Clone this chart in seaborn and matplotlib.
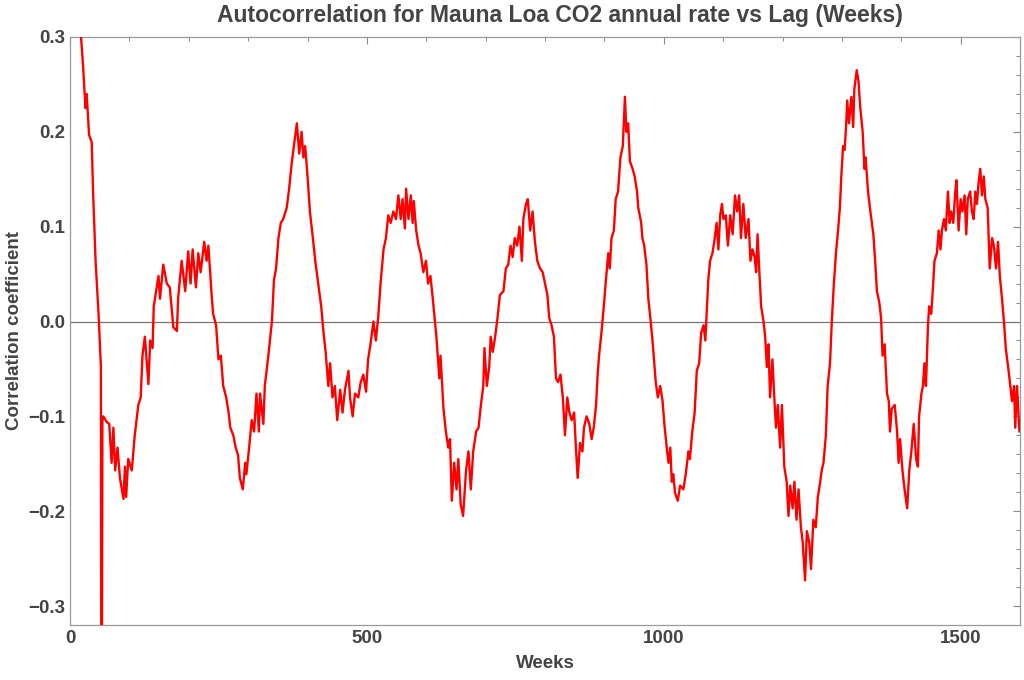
import matplotlib
matplotlib.use("Agg")
import matplotlib.pyplot as plt
import seaborn as sns
import pandas as pd
from matplotlib.ticker import MultipleLocator, FuncFormatter

weeks = [
    0, 6, 12, 18.5, 22, 26, 28, 32, 36.5, 39, 40, 43, 48, 52, 53, 54.5, 56, 62, 66, 70, 73, 76, 80, 84,
    90, 92.5, 94.5, 98, 104, 109, 115, 119, 122, 126, 132, 135, 139, 141, 145, 149, 151.5, 157,
    163, 168, 174, 180, 182, 188, 194, 199, 203, 206.5, 212, 216, 220, 226, 230, 233, 238.5, 241,
    246, 250, 254, 258, 263, 267, 270, 275, 279, 283, 286, 291, 295, 297, 301, 306, 310, 314, 318,
    320, 325.6, 328, 334, 340, 343.5, 347, 351, 355, 359, 365, 369, 373, 377, 382, 386, 390, 393,
    396, 400, 404, 409, 413, 418, 423, 427, 430.5, 435, 438, 442, 446, 450, 455, 459, 463, 469,
    471.5, 476, 480, 485.5, 489.5, 494, 498.5, 502, 506, 511, 515, 519, 523, 528, 532, 536, 540,
    544.5, 549, 553, 557, 560, 564, 566, 570, 574, 577, 579, 583, 587, 590.5, 595, 599.5, 603, 607,
    611, 614.6, 617, 622, 624, 629, 633, 637,
    640, 643, 647, 651, 654, 658, 662, 667, 671, 675, 679, 684, 688, 692, 696, 698, 702, 706,
    708.5, 712, 716, 720, 724, 730, 734, 738, 742, 745.5, 749, 753, 757, 761, 763.5, 768, 771, 775,
    779, 783, 787, 791.5, 796, 800, 804, 807, 811, 815, 818.5, 822, 826, 830, 833.6, 837.5, 841,
    845, 849, 852, 855, 859, 863, 865.6, 870, 874.6, 878.5, 882, 886, 888.6, 891, 895, 899, 902.6,
    906.5, 909, 912, 916, 919, 923, 927, 931, 934.6, 937, 940, 943, 947.5, 951, 955,
    957, 962, 964, 967, 970.8, 974, 978, 981, 984, 986.5, 990, 994, 998, 1001, 1005, 1008, 1011,
    1013.5, 1016, 1019, 1023.6, 1027.5, 1033, 1037, 1041.6, 1044, 1048, 1052, 1055.6, 1059.6, 1063,
    1067, 1070, 1072.5, 1075, 1078, 1082, 1085, 1089, 1092, 1095, 1098, 1100.5, 1104.5, 1108, 1112,
    1116, 1120, 1123.6, 1127, 1130, 1134, 1138, 1142.7, 1146, 1149.4, 1153, 1155.6, 1158, 1160.7,
    1164, 1168, 1170.8, 1173.6, 1176.4, 1179, 1183, 1186.5, 1189, 1192, 1196, 1199, 1203, 1207,
    1210, 1213, 1217, 1220, 1223.6, 1227, 1231, 1234, 1238, 1241, 1245, 1248, 1252, 1256, 1259.5,
    1263.5,
    1266, 1269, 1273, 1276, 1280, 1283, 1286.5, 1290, 1293, 1296.6, 1299, 1302, 1304.5, 1307, 1309,
    1312, 1316, 1319, 1321, 1325, 1328, 1331, 1335, 1338, 1340, 1344, 1348, 1350.5, 1353, 1356,
    1359, 1363, 1366, 1368.5, 1372, 1376, 1379, 1381, 1384, 1389, 1393, 1395.5, 1398, 1402, 1405.6,
    1410, 1413.5, 1417, 1421, 1425, 1428, 1430, 1434, 1436.5, 1439, 1441.6, 1445, 1447, 1450.5,
    1453, 1456, 1460, 1463, 1466, 1468.5, 1472, 1475, 1478.6, 1481.5, 1484, 1487.6, 1491, 1493,
    1496.6, 1500, 1503, 1506.7, 1509.5, 1512, 1516, 1519, 1522, 1524.7, 1527.5, 1530, 1533, 1536,
    1539, 1541.6, 1545.5, 1549, 1553, 1556, 1559.6, 1563, 1566, 1569.7, 1573, 1576, 1580, 1583,
    1586.5, 1590, 1592, 1595, 1599,
]

correlation = [
    1.0, 0.62, 0.42, 0.30, 0.269, 0.225, 0.24, 0.197, 0.189, 0.133, 0.116, 0.064, 0.008, -0.048, -0.6, -0.104, -0.10, -0.106, -0.108, -0.149, -0.112, -0.157, -0.133, -0.165,
    -0.187, -0.153, -0.185, -0.145, -0.157, -0.12, -0.088, -0.08, -0.036, -0.016, -0.066, -0.02, -0.028, 0.016, 0.032, 0.048, 0.024, 0.06,
    0.04, 0.036, -0.006, -0.01, 0.024, 0.064, 0.032, 0.074, 0.04, 0.076, 0.036, 0.072, 0.052, 0.084, 0.064, 0.08, 0.028, 0.008,
    -0.004, -0.04, -0.036, -0.068, -0.08, -0.096, -0.112, -0.12, -0.133, -0.141, -0.165, -0.177, -0.149, -0.161, -0.137, -0.104, -0.116, -0.076, -0.116,
    -0.076, -0.108, -0.068, -0.036, 0.0, 0.044, 0.056, 0.088, 0.104, 0.108, 0.12, 0.14, 0.165, 0.185, 0.209, 0.177, 0.2, 0.173,
    0.185, 0.153, 0.116, 0.088, 0.064, 0.04, 0.016, -0.012, -0.032, -0.068, -0.044, -0.08, -0.068, -0.104, -0.072, -0.096, -0.072, -0.052,
    -0.08, -0.1, -0.076, -0.08, -0.064, -0.056, -0.074, -0.04, -0.024, 0.0, -0.02, 0.004, 0.04, 0.076, 0.088, 0.112, 0.104,
    0.116, 0.108, 0.133, 0.108, 0.129, 0.098, 0.14, 0.108, 0.133, 0.104, 0.127, 0.096, 0.08, 0.072, 0.052, 0.064, 0.04, 0.048,
    0.024, 0.0, -0.016, -0.06, -0.036, -0.092, -0.116, -0.133,
    -0.124, -0.189, -0.149, -0.177, -0.145, -0.193, -0.205, -0.157, -0.137, -0.177, -0.137, -0.116, -0.112, -0.088, -0.068, -0.028, -0.068, -0.048,
    -0.016, -0.032, -0.016, 0.004, 0.028, 0.032, 0.056, 0.06, 0.08, 0.068, 0.088, 0.08, 0.1, 0.064, 0.108, 0.124, 0.129, 0.096,
    0.116, 0.084, 0.064, 0.056, 0.052, 0.04, 0.028, 0.004, -0.004, -0.016, -0.06, -0.064, -0.056, -0.08, -0.12, -0.08, -0.096,
    -0.104, -0.096, -0.133, -0.165, -0.128, -0.137, -0.112, -0.1, -0.108, -0.124, -0.112, -0.088, -0.056, -0.036, -0.012, 0.016, 0.044,
    0.072, 0.056, 0.088, 0.096, 0.129, 0.137, 0.173, 0.185, 0.237, 0.2, 0.209, 0.169, 0.161, 0.153, 0.137,
    0.12, 0.104, 0.088, 0.08, 0.06, 0.024, 0.0, -0.02, -0.044, -0.064, -0.08, -0.068, -0.084, -0.108, -0.133, -0.149, -0.133,
    -0.169, -0.161, -0.181, -0.189, -0.173, -0.177, -0.161, -0.137, -0.145, -0.116, -0.096, -0.052, -0.044, -0.012,
    -0.004, -0.02, 0.012, 0.044, 0.064, 0.072, 0.084, 0.104, 0.076, 0.112, 0.124, 0.108, 0.112, 0.08, 0.112,
    0.092, 0.133, 0.116, 0.133, 0.088, 0.124, 0.088, 0.108, 0.064, 0.076, 0.068, 0.052, 0.092, 0.056,
    0.016, 0.0, -0.016, -0.048, -0.024, -0.08, -0.04, -0.084, -0.112, -0.088, -0.133, -0.088, -0.153, -0.169,
    -0.205, -0.173, -0.197, -0.169, -0.209, -0.177, -0.217, -0.233, -0.273, -0.221, -0.233, -0.261, -0.209, -0.217, -0.185,
    -0.169,
    -0.157, -0.149, -0.12, -0.068, -0.044, 0.0, 0.04, 0.072, 0.092, 0.12, 0.153, 0.185, 0.181, 0.205, 0.233,
    0.209, 0.237, 0.205, 0.245, 0.265, 0.253, 0.225, 0.2, 0.161, 0.173, 0.137, 0.116, 0.104, 0.092, 0.064,
    0.032, 0.02, 0.004, -0.036, -0.024, -0.076, -0.084, -0.116, -0.092, -0.088, -0.116, -0.149, -0.124, -0.157, -0.177,
    -0.197, -0.157, -0.137, -0.108, -0.145, -0.153, -0.1, -0.076, -0.068, -0.044, -0.068, -0.004, 0.016, 0.008,
    0.032, 0.064, 0.072, 0.096, 0.076, 0.096, 0.108, 0.096, 0.137, 0.104, 0.116, 0.104, 0.137, 0.149,
    0.096, 0.129, 0.116, 0.133, 0.092, 0.129, 0.137, 0.116, 0.108, 0.137, 0.124, 0.145, 0.161, 0.133,
    0.153, 0.129, 0.12, 0.056, 0.088, 0.08, 0.056, 0.084, 0.048, 0.024, 0.0, -0.028, -0.048, -0.064,
    -0.084, -0.068, -0.112, -0.068, -0.116,
]

x_ticks = [0, 500, 1000, 1500]
y_ticks = [-0.3, -0.2, -0.1, 0.0, 0.1, 0.2, 0.3]

df = pd.DataFrame({"Weeks": weeks, "Correlation": correlation})

sns.set_theme(style="white")
plt.rcParams['font.family'] = ['Liberation Sans', 'DejaVu Sans']

text_col = "#444444"
frame_col = "#9a9a9a"

fig = plt.figure(figsize=(10.24, 6.8), dpi=100)
ax = fig.add_axes([0.0684, 0.0809, 0.9277, 0.8647])

ax.axhline(0, color="#777777", lw=0.9, zorder=1)
sns.lineplot(data=df, x="Weeks", y="Correlation", ax=ax, color="#ff0000",
             lw=1.7, sort=False, estimator=None, zorder=3)

ax.set_xlim(0, 1600)
ax.set_ylim(-0.32, 0.30)
ax.set_xticks(x_ticks)
ax.set_yticks(y_ticks)
ax.xaxis.set_minor_locator(MultipleLocator(100))
ax.yaxis.set_minor_locator(MultipleLocator(0.02))
ax.yaxis.set_major_formatter(FuncFormatter(lambda v, p: f"{v:.1f}".replace("-", "\u2212")))
ax.xaxis.set_major_formatter(FuncFormatter(lambda v, p: f"{int(round(v))}"))

ax.tick_params(which="both", direction="in", top=True, right=True, color="#888888",
               labelcolor=text_col, labelsize=13.5)
ax.tick_params(which="major", length=5, width=0.8)
ax.tick_params(which="minor", length=3, width=0.7)
for lab in ax.get_xticklabels() + ax.get_yticklabels():
    lab.set_fontweight("bold")

for s in ax.spines.values():
    s.set_color(frame_col)
    s.set_linewidth(0.9)

ax.set_xlabel("Weeks", fontsize=13.5, fontweight="bold", color=text_col, labelpad=6)
ax.set_ylabel("Correlation coefficient", fontsize=13.5, fontweight="bold", color=text_col, labelpad=4)
ax.set_title("Autocorrelation for Mauna Loa CO2 annual rate vs Lag (Weeks)",
             fontsize=16.5, fontweight="bold", color=text_col, pad=11, x=0.516)

fig.savefig("out.png", dpi=100)
